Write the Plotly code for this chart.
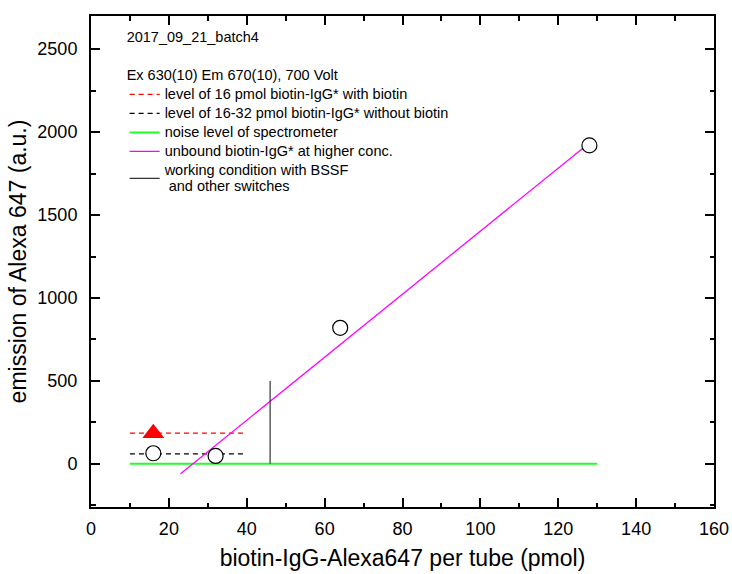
import plotly.graph_objects as go

# Measured emission (a.u.) versus amount of biotin-IgG-Alexa647 per tube (pmol)
without_biotin_pmol = [16, 32, 64, 128]
without_biotin_emission = [64, 48, 820, 1920]

with_biotin_pmol = [16]
with_biotin_emission = [185]

# Reference levels and guide lines
level_x = [10, 40]
with_biotin_level = [185, 185]
without_biotin_level = [60, 60]

noise_x = [10, 130]
noise_level = [0, 0]

unbound_x = [23, 128]
unbound_y = [-60, 1935]

working_x = [46, 46]
working_y = [0, 500]

FONT = "Arial, Liberation Sans, sans-serif"
LEGEND_TEXT = '<span style="font-size:14.5px">{}</span>'


def legend_label(*lines):
    return "<br>".join(LEGEND_TEXT.format(t) for t in lines)


fig = go.Figure()

fig.add_trace(go.Scatter(
    x=level_x, y=with_biotin_level, mode="lines",
    line=dict(color="#ff0000", width=1.3, dash="5px,4px"),
    name=legend_label("level of 16 pmol biotin-IgG* with biotin")))
fig.add_trace(go.Scatter(
    x=level_x, y=without_biotin_level, mode="lines",
    line=dict(color="#000000", width=1.3, dash="5px,4px"),
    name=legend_label("level of 16-32 pmol biotin-IgG* without biotin")))
fig.add_trace(go.Scatter(
    x=noise_x, y=noise_level, mode="lines",
    line=dict(color="#22ff22", width=2),
    name=legend_label("noise level of spectrometer")))
fig.add_trace(go.Scatter(
    x=unbound_x, y=unbound_y, mode="lines",
    line=dict(color="#ff00ff", width=1.3),
    name=legend_label("unbound biotin-IgG* at higher conc.")))
fig.add_trace(go.Scatter(
    x=working_x, y=working_y, mode="lines",
    line=dict(color="#333333", width=1.2),
    name=legend_label("working condition with BSSF", "\u00a0and other switches")))

fig.add_trace(go.Scatter(
    x=without_biotin_pmol, y=without_biotin_emission, mode="markers",
    marker=dict(symbol="circle", size=15, color="white",
                line=dict(color="black", width=1.2)),
    showlegend=False))
fig.add_trace(go.Scatter(
    x=with_biotin_pmol, y=with_biotin_emission, mode="markers",
    marker=dict(symbol="triangle-up", size=19, color="#ff0000",
                line=dict(width=0)),
    showlegend=False))

axis_common = dict(
    showline=True, linecolor="black", linewidth=2, mirror="allticks",
    ticks="inside", ticklen=9, tickwidth=1.5, tickcolor="black",
    showgrid=False, zeroline=False, automargin=False,
    tickfont=dict(family=FONT, size=18, color="black"),
)

fig.update_xaxes(
    range=[0, 160], dtick=20, tick0=0,
    minor=dict(dtick=10, ticks="inside", ticklen=4.5, tickwidth=1.5, tickcolor="black"),
    ticklabelstandoff=4,
    title=dict(text="biotin-IgG-Alexa647 per tube (pmol)",
               font=dict(family=FONT, size=23, color="black"), standoff=12),
    **axis_common)
fig.update_yaxes(
    range=[-260, 2700], dtick=500, tick0=0,
    minor=dict(dtick=250, ticks="inside", ticklen=4.5, tickwidth=1.5, tickcolor="black"),
    ticklabelstandoff=8,
    title=dict(text="emission of Alexa 647 (a.u.)",
               font=dict(family=FONT, size=23, color="black"), standoff=4),
    **axis_common)

fig.update_layout(
    width=732, height=574,
    margin=dict(l=91, r=18, t=16, b=67),
    paper_bgcolor="white", plot_bgcolor="white",
    font=dict(family=FONT, color="black"),
    showlegend=True,
    legend=dict(
        x=0.054, y=0.985, xanchor="left", yanchor="top",
        bgcolor="rgba(0,0,0,0)", borderwidth=0,
        font=dict(family=FONT, size=12.3, color="black"),
        title=dict(text="2017_09_21_batch4<br><br>Ex 630(10) Em 670(10), 700 Volt",
                   font=dict(family=FONT, size=14.5, color="black"), side="top"),
        itemwidth=30,
    ),
)

fig.write_html("out.html")
